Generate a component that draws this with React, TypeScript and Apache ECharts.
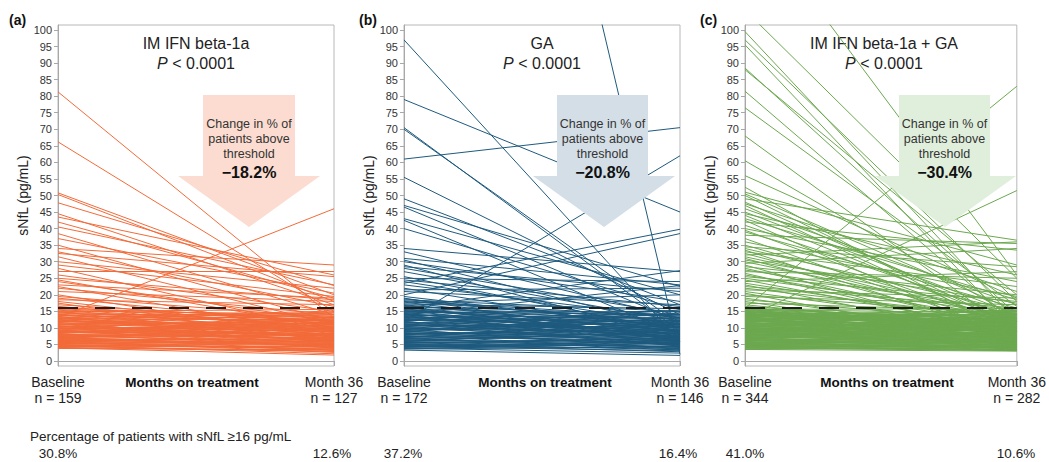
import React, { useEffect, useRef } from "react";
import * as echarts from "echarts";

const FONT = "'Liberation Sans', Arial, Helvetica, sans-serif";

const panelLetters = ["(a)", "(b)", "(c)"];
const treatments = ["IM IFN beta-1a", "GA", "IM IFN beta-1a + GA"];
const changeLabels = ["\u221218.2%", "\u221220.8%", "\u221230.4%"];
const baselineN = [159, 172, 344];
const month36N = [127, 146, 282];
const baselinePct = ["30.8%", "37.2%", "41.0%"];
const month36Pct = ["12.6%", "16.4%", "10.6%"];
const threshold = 16;
const yTicks = [0, 5, 10, 15, 20, 25, 30, 35, 40, 45, 50, 55, 60, 65, 70, 75, 80, 85, 90, 95, 100];
const xTicks = [0, 36];

// IM IFN beta-1a: baseline and month-36 sNfL per patient (pg/mL)
const ifnBaseline = [
  81.3, 66.2, 50.8, 50.3, 47.8, 44.5, 43.5, 42, 40.5, 38.5,
  37, 35, 34, 33, 32.5, 31.5, 30, 29, 28, 27,
  26, 25, 24.5, 24, 23, 22.5, 22, 21, 20, 19.5,
  19, 18.5, 18, 17.5, 17, 16.5, 13.2,
  15.8, 15.4, 15.1, 14.9, 14.6, 14.3, 14.0, 13.8, 13.5, 13.3,
  13.0, 12.8, 12.6, 12.3, 12.1, 11.9, 11.7, 11.5, 11.2, 11.0,
  10.8, 10.6, 10.4, 10.2, 10.0, 9.8, 9.6, 9.4, 9.2, 9.0,
  8.8, 8.6, 8.4, 8.2, 8.0, 7.8, 7.6, 7.4, 7.2, 7.0,
  6.8, 6.6, 6.4, 6.2, 6.0, 5.8, 5.6, 5.4, 5.2, 5.0,
  4.8, 4.6, 4.4, 4.2, 4.0, 3.8,
  15.6, 14.8, 14.1, 13.6, 13.1, 12.4, 11.8, 11.3, 10.9, 10.5,
  9.9, 9.3, 8.9, 8.5, 7.9, 7.5, 7.1, 6.7, 6.3, 5.9,
  5.5, 5.1, 4.7, 4.3, 4.1,
  16.0, 15.0, 13.9, 12.9, 12.0, 11.1, 10.1, 9.7, 8.7, 8.3,
  7.7, 6.9, 6.5, 6.1, 5.7, 5.3,
];
const ifnMonth36 = [
  13, 15, 20, 18, 22.8, 17, 26, 19, 23, 14,
  20.5, 12, 29, 16.5, 25.5, 11, 22, 19.5, 9, 27,
  15, 18.5, 10, 12, 19, 8, 14, 18, 7, 13,
  11, 17, 9, 6, 12, 10, 46,
  12.1, 8.7, 14.2, 6.3, 10.8, 13.5, 7.9, 11.6, 5.4, 9.2,
  15.1, 12.4, 6.8, 10.1, 8.2, 13.9, 4.7, 9.8, 11.3, 7.1,
  14.6, 6.0, 8.9, 12.7, 5.2, 10.4, 7.5, 3.9, 11.8, 8.4,
  6.5, 13.2, 9.5, 4.3, 7.7, 10.9, 5.8, 8.0, 3.2, 9.1,
  6.2, 12.0, 4.9, 7.3, 2.6, 5.5, 8.6, 3.6, 6.7, 4.1,
  2.2, 5.0, 3.0, 6.1, 1.8, 3.4,
  10.3, 11.9, 9.6, 12.9, 7.4, 14.8, 10.6, 5.9, 12.2, 9.0,
  13.4, 6.6, 10.0, 11.1, 6.9, 9.7, 4.5, 8.3, 5.7, 7.0,
  4.6, 5.3, 3.8, 4.4, 2.9,
  13.0, 15.6, 14.0, 8.8, 11.4, 9.4, 7.8, 11.5, 8.1, 12.5,
  7.2, 10.2, 6.4, 4.8, 3.3, 6.0,
];

// GA
const gaBaseline = [
  355, 97, 79, 70.5, 70, 61, 55.5, 49, 47, 46.5,
  43, 42.5, 40, 34, 33, 31, 30.5, 30, 29, 28.5,
  28, 27, 25.5, 25, 24.5, 24, 23.5, 23, 22, 21.5,
  21, 20, 19.5, 19, 18.8, 18.5, 18.2, 18, 17.8, 17.5,
  17.2, 17, 16.8, 16.5, 16.4, 16.2, 12, 16, 14,
  15.9, 15.6, 15.3, 15.0, 14.7, 14.4, 14.1, 13.8, 13.5, 13.2,
  12.9, 12.6, 12.3, 12.0, 11.7, 11.4, 11.1, 10.8, 10.5, 10.2,
  9.9, 9.6, 9.3, 9.0, 8.7, 8.4, 8.1, 7.8, 7.5, 7.2,
  6.9, 6.6, 6.3, 6.0, 5.7, 5.4, 5.1, 4.8, 4.5, 4.2,
  3.9, 3.6, 3.3,
  15.8, 15.2, 14.6, 14.0, 13.4, 12.8, 12.2, 11.6, 11.0, 10.4,
  9.8, 9.2, 8.6, 8.0, 7.4, 6.8, 6.2, 5.6, 5.0, 4.4,
  3.8,
  15.5, 14.9, 14.3, 13.7, 13.1, 12.5, 11.9, 11.3, 10.7, 10.1,
  9.5, 8.9, 8.3, 7.7, 7.1, 6.5, 5.9, 5.3, 4.7, 4.1,
];
const gaMonth36 = [
  2, 6, 45, 9, 11, 70.5, 14, 17, 22.5, 12,
  20, 8, 15.5, 27, 13, 23, 10, 18, 7, 21,
  14, 12, 9, 24, 16.5, 11, 39.8, 13, 8.5, 22,
  17, 38.5, 10, 6, 10.4, 15, 13.2, 12, 8.0, 20,
  15.8, 9, 11.2, 14, 6.9, 7, 62, 27.3, 22.8,
  13.6, 9.2, 6.4, 11.7, 15.0, 7.3, 10.5, 12.9, 5.8, 8.9,
  14.2, 6.9, 11.0, 4.6, 9.7, 13.3, 7.6, 10.2, 5.2, 12.4,
  8.3, 3.7, 10.9, 6.6, 14.6, 7.9, 4.9, 9.6, 6.1, 11.8,
  3.3, 7.4, 5.4, 9.0, 4.2, 6.8, 2.8, 5.6, 3.9, 6.3,
  2.4, 4.4, 1.7,
  7.7, 12.6, 9.9, 5.1, 11.4, 8.1, 13.9, 6.2, 9.4, 15.4,
  7.0, 12.0, 5.0, 10.6, 8.5, 4.1, 8.8, 5.9, 7.2, 3.1,
  5.3,
  10.8, 14.0, 8.2, 6.7, 10.1, 12.2, 7.2, 4.5, 11.3, 8.7,
  13.0, 6.0, 9.3, 3.6, 7.8, 10.3, 6.5, 3.4, 4.8, 5.5,
];

// IM IFN beta-1a + GA
const comboBaseline = [
  136, 106, 99.5, 97, 95.5, 88.5, 88, 81.5, 76.5, 68,
  60.5, 56, 52.5, 51, 50.5, 50, 49, 48, 47.5, 47,
  46, 45, 44.5, 44, 43, 42.5, 42, 41, 40, 39.5,
  39, 38, 37, 36, 35, 34.5, 34, 33.5, 33, 32.5,
  32, 31.5, 31, 30.5, 30, 29.5, 29, 28.5, 28, 27.5,
  27, 26.5, 26, 25.5, 25, 24.5, 24, 23.5, 23, 22.5,
  22, 21.5, 21, 20.5, 20, 19.5, 19, 18.5, 18, 17.5,
  17, 16.5, 16, 13,
  15.9, 15.7, 15.5, 15.3, 15.1, 14.9, 14.7, 14.5, 14.3, 14.1,
  13.9, 13.7, 13.5, 13.3, 13.1, 12.9, 12.7, 12.5, 12.3, 12.1,
  11.9, 11.7, 11.5, 11.3, 11.1, 10.9, 10.7, 10.5, 10.3, 10.1,
  9.9, 9.7, 9.5, 9.3, 9.1, 8.9, 8.7, 8.5, 8.3, 8.1,
  7.9, 7.7, 7.5, 7.3, 7.1, 6.9, 6.7, 6.5, 6.3, 6.1,
  5.9, 5.7, 5.5, 5.3, 5.1, 4.9, 4.7, 4.5, 4.3, 4.1,
  3.9, 3.7, 3.5,
  15.8, 15.4, 15.0, 14.6, 14.2, 13.8, 13.4, 13.0, 12.6, 12.2,
  11.8, 11.4, 11.0, 10.6, 10.2, 9.8, 9.4, 9.0, 8.6, 8.2,
  7.8, 7.4, 7.0, 6.6, 6.2, 5.8, 5.4, 5.0, 4.6, 4.2,
  15.6, 15.2, 14.8, 14.4, 14.0, 13.6, 13.2, 12.8, 12.4, 12.0,
  11.6, 11.2, 10.8, 10.4, 10.0, 9.6, 9.2, 8.8, 8.4, 8.0,
  7.6, 7.2, 6.8, 6.4, 6.0, 5.6, 5.2, 4.8, 4.4, 4.0,
  3.6,
  14.95, 13.85, 12.75, 11.65, 10.55, 9.45, 8.35, 7.25, 6.15, 5.05,
  11.25, 9.15, 13.15, 7.95, 10.05, 12.45, 14.35, 6.85, 8.95, 5.45,
];
const comboMonth36 = [
  26, 25, 12, 18, 9, 14, 20, 11, 16.5, 8,
  13, 19, 7, 29, 15, 10, 36.5, 12, 21, 9,
  17, 14, 26, 11, 18.5, 6, 33.5, 13, 24, 10,
  16, 35.5, 8, 19.5, 12, 28.5, 15, 7, 22.5, 11,
  36, 14, 9, 17.5, 13, 34, 6, 20, 10, 15,
  25, 8, 12, 18, 14, 9, 27, 11, 7, 16,
  13, 19, 10, 5, 14, 17, 8, 12, 6, 15,
  9, 11, 83, 51.5,
  12.3, 7.8, 14.6, 9.9, 5.6, 11.2, 13.8, 6.9, 10.4, 15.2,
  8.1, 12.7, 4.8, 9.3, 11.6, 7.2, 14.1, 5.9, 10.8, 8.6,
  13.2, 6.4, 9.6, 12.1, 4.2, 8.8, 11.4, 7.5, 14.9, 5.3,
  9.1, 6.7, 12.5, 3.9, 8.3, 10.6, 5.1, 7.9, 13.5, 4.5,
  9.4, 6.2, 11.0, 3.6, 7.7, 5.5, 9.8, 4.0, 6.6, 8.5,
  3.3, 5.8, 7.1, 4.4, 6.0, 3.1, 5.2, 4.6, 3.5, 5.0,
  3.2, 4.1, 3.0,
  10.1, 13.1, 8.4, 12.8, 6.1, 10.9, 14.3, 7.6, 11.8, 9.0,
  15.5, 5.4, 10.2, 12.9, 6.8, 8.0, 11.3, 4.9, 9.7, 7.3,
  12.2, 5.7, 8.9, 3.8, 7.4, 6.3, 9.2, 4.3, 5.9, 3.4,
  15.8, 11.5, 9.5, 7.0, 13.6, 10.0, 6.5, 12.6, 8.7, 14.4,
  7.7, 10.5, 5.0, 9.0, 13.0, 6.0, 10.3, 7.0, 11.7, 5.3,
  8.2, 6.4, 10.7, 4.7, 7.8, 5.1, 3.7, 6.9, 4.8, 3.3,
  4.3,
  8.9, 12.0, 6.3, 9.9, 11.9, 7.9, 6.1, 9.5, 5.6, 7.5,
  13.7, 12.0, 15.0, 10.4, 4.4, 5.2, 11.1, 3.9, 14.0, 8.0,
];

const panelData = [
  { base: ifnBaseline, m36: ifnMonth36 },
  { base: gaBaseline, m36: gaMonth36 },
  { base: comboBaseline, m36: comboMonth36 },
];

const layouts = [
  { left: 58, width: 276, line: "#f26b3a", arrow: "#fcdcd0", rect: [203, 295], head: [178, 320], tip: 249, titleX: 196, monthsX: 192, letterX: 9, bx: 58, mx: 332 },
  { left: 404, width: 276, line: "#1e5a7e", arrow: "#d3dee7", rect: [557, 648], head: [533, 675], tip: 604, titleX: 542, monthsX: 545, letterX: 359, bx: 403, mx: 678 },
  { left: 745, width: 277, line: "#6ca84f", arrow: "#e0efdc", rect: [899, 990], head: [875, 1016], tip: 945, titleX: 884, monthsX: 887, letterX: 700, bx: 745, mx: 1016 },
];

const TOP = 25;
const HEIGHT = 341;

function txt(text: string, x: number, y: number, o: any = {}) {
  const align = o.align || "center";
  return {
    type: "text",
    x,
    y,
    z: o.z ?? 1,
    silent: true,
    style: {
      text,
      fill: o.color || "#222",
      fontSize: o.size || 13,
      fontWeight: o.weight || "normal",
      fontFamily: FONT,
      align,
      textAlign: align,
      verticalAlign: "middle",
      textVerticalAlign: "middle",
      rich: o.rich,
    },
  };
}

export default function App() {
  const ref = useRef<HTMLDivElement>(null);

  useEffect(() => {
    if (!ref.current) return;
    const chart = echarts.init(ref.current, null, { renderer: "svg" });

    const grid: any[] = [];
    const xAxis: any[] = [];
    const yAxis: any[] = [];
    const series: any[] = [];
    const graphic: any[] = [];

    layouts.forEach((L, i) => {
      grid.push({
        left: L.left,
        top: TOP,
        width: L.width,
        height: HEIGHT,
        show: true,
        borderColor: "#b8b8b8",
        borderWidth: 1,
        backgroundColor: "transparent",
      });
      xAxis.push({
        type: "value",
        gridIndex: i,
        min: 0,
        max: 36,
        splitLine: { show: false },
        axisLine: { show: true, lineStyle: { color: "#a8a8a8", width: 1 } },
        axisTick: { show: true, customValues: xTicks, length: 5, lineStyle: { color: "#a8a8a8" } },
        axisLabel: {
          show: true,
          customValues: xTicks,
          margin: 8,
          fontSize: 14,
          lineHeight: 16,
          color: "#222",
          fontFamily: FONT,
          formatter: (v: number) =>
            v === 0 ? `Baseline\nn = ${baselineN[i]}` : `Month 36\nn = ${month36N[i]}`,
        },
      });
      yAxis.push({
        type: "value",
        gridIndex: i,
        min: -1.5,
        max: 101.5,
        splitLine: { show: false },
        axisLine: { show: true, lineStyle: { color: "#a8a8a8", width: 1 } },
        axisTick: { show: true, customValues: yTicks, length: 4, lineStyle: { color: "#a8a8a8" } },
        axisLabel: {
          show: true,
          customValues: yTicks,
          margin: 6,
          fontSize: 11,
          color: "#333",
          fontFamily: FONT,
        },
        name: "sNfL (pg/mL)",
        nameLocation: "middle",
        nameGap: 20,
        nameTextStyle: { fontSize: 14, color: "#222", fontFamily: FONT },
      });

      const d = panelData[i];
      series.push({
        type: "lines",
        coordinateSystem: "cartesian2d",
        xAxisIndex: i,
        yAxisIndex: i,
        clip: true,
        silent: true,
        z: 2,
        lineStyle: { color: L.line, width: 1, opacity: 1, curveness: 0 },
        data: d.base.map((b, k) => ({ coords: [[0, b], [36, d.m36[k]]] })),
      });
      series.push({
        type: "line",
        xAxisIndex: i,
        yAxisIndex: i,
        silent: true,
        symbol: "none",
        z: 5,
        lineStyle: { color: "#1e1e1e", width: 2, type: [20, 17] },
        data: [[0, threshold], [36, threshold]],
      });

      // arrow
      graphic.push({
        type: "polygon",
        z: 50,
        silent: true,
        shape: {
          points: [
            [L.rect[0], 95],
            [L.rect[1], 95],
            [L.rect[1], 176],
            [L.head[1], 176],
            [L.tip, 227],
            [L.head[0], 176],
            [L.rect[0], 176],
          ],
        },
        style: { fill: L.arrow },
      });
      const cx = (L.rect[0] + L.rect[1]) / 2;
      graphic.push(txt("Change in % of", cx, 124, { size: 12.5, z: 51, color: "#333" }));
      graphic.push(txt("patients above", cx, 139, { size: 12.5, z: 51, color: "#333" }));
      graphic.push(txt("threshold", cx, 154, { size: 12.5, z: 51, color: "#333" }));
      graphic.push(txt(changeLabels[i], cx, 172, { size: 16, weight: "bold", z: 51, color: "#111" }));

      // titles
      graphic.push(txt(treatments[i], L.titleX, 43, { size: 16, z: 1 }));
      graphic.push(
        txt("{i|P} < 0.0001", L.titleX, 63, {
          size: 16,
          z: 1,
          rich: { i: { fontStyle: "italic", fontSize: 16, fontFamily: FONT, fill: "#222" } },
        })
      );
      graphic.push(txt(panelLetters[i], L.letterX, 20, { size: 14, weight: "bold", align: "left", color: "#111" }));
      graphic.push(txt("Months on treatment", L.monthsX, 382, { size: 13.5, weight: "bold", color: "#111" }));
      graphic.push(txt(baselinePct[i], L.bx, 453, { size: 13.5 }));
      graphic.push(txt(month36Pct[i], L.mx, 453, { size: 13.5 }));
    });

    graphic.push(txt("Percentage of patients with sNfL \u226516 pg/mL", 30, 436, { size: 13.5, align: "left" }));

    chart.setOption({
      animation: false,
      backgroundColor: "#ffffff",
      textStyle: { fontFamily: FONT },
      grid,
      xAxis,
      yAxis,
      series,
      graphic: { elements: graphic },
    });

    return () => chart.dispose();
  }, []);

  return (
    <div
      ref={ref}
      style={{ position: "absolute", left: 0, top: 0, width: 1049, height: 462 }}
    />
  );
}
